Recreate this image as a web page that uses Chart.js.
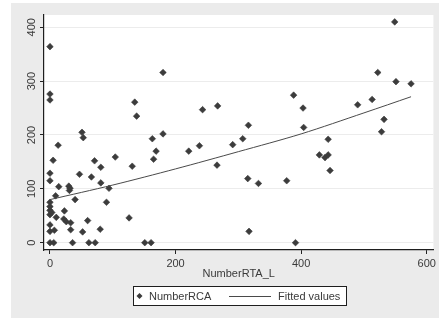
<!DOCTYPE html>
<html>
<head>
<meta charset="utf-8">
<script src="https://cdn.jsdelivr.net/npm/chart.js@4/dist/chart.umd.min.js"></script>
<style>
  html, body { margin: 0; padding: 0; background: #ffffff; }
  #wrap { width: 439px; height: 322px; }
</style>
</head>
<body>
<div id="wrap"><canvas id="c" width="439" height="322"></canvas></div>
<script>
// NumberRCA against NumberRTA_L, one entry per observation
const rcaX = [0, 0, 0, 0, 0, 0, 0, 0, 0, 0, 0, 0,
  3, 5, 7, 6, 10, 9, 13, 14,
  22, 23, 26, 30, 32, 31, 33, 33, 36, 40, 47, 51, 53, 52, 60, 62, 66, 71, 72, 80, 81, 81, 90, 94,
  104, 126, 131, 135, 138, 151, 161, 163, 165, 169, 180, 180,
  221, 238, 243, 267, 266, 291, 307, 315, 316, 317, 332, 377, 388, 391,
  403, 404, 429, 438, 443, 443, 446, 490, 513, 522, 528, 532, 549, 551, 575];
const rcaY = [364, 276, 265, 129, 115, 75, 67, 60, 52, 33, 21, 0,
  56, 153, 23, 0, 47, 87, 181, 104,
  44, 59, 39, 105, 101, 97, 37, 24, 0, 80, 127, 205, 195, 20, 41, 0, 122, 152, 0, 25, 140, 111, 75, 101,
  159, 46, 142, 261, 235, 0, 0, 193, 155, 170, 202, 316,
  170, 180, 247, 254, 144, 182, 193, 119, 218, 21, 110, 115, 274, 0,
  250, 214, 163, 158, 163, 192, 134, 256, 266, 316, 206, 229, 410, 299, 295];

// Fitted values curve
const fitX = [0, 100, 200, 300, 400, 500, 575];
const fitY = [80, 107, 137, 169, 202, 241, 271];

const xTicks = [0, 200, 400, 600];
const yTicks = [0, 100, 200, 300, 400];

const seriesNames = ['NumberRCA', 'Fitted values'];
const xTitle = 'NumberRTA_L';

const INK = '#3a3a3a';
const FONT = { family: '"Liberation Sans", Arial, sans-serif', size: 11 };

const backdrop = {
  id: 'backdrop',
  beforeDraw(chart) {
    const { ctx, chartArea: a } = chart;
    ctx.save();
    ctx.fillStyle = '#ffffff';
    ctx.fillRect(0, 0, chart.width, chart.height);
    ctx.fillStyle = '#ebebeb';
    ctx.fillRect(11, 3, chart.width - 11, 315);
    ctx.fillStyle = '#ffffff';
    ctx.fillRect(a.left, a.top, a.right - a.left, a.bottom - a.top);
    ctx.restore();
  }
};

// Boxed legend under the axis title
const boxLegend = {
  id: 'boxLegend',
  afterDraw(chart) {
    const { ctx } = chart;
    const ds = chart.data.datasets;
    const top = 286, h = 20, cy = top + h / 2;
    const left = 133, right = 347;
    ctx.save();
    ctx.fillStyle = '#ffffff';
    ctx.fillRect(left, top, right - left, h);
    ctx.strokeStyle = '#1e1e1e';
    ctx.lineWidth = 1;
    ctx.strokeRect(left + 0.5, top + 0.5, right - left - 1, h - 1);

    // marker key
    const mx = 139.5, r = 3;
    ctx.fillStyle = ds[0].backgroundColor;
    ctx.beginPath();
    ctx.moveTo(mx - r, cy); ctx.lineTo(mx, cy - r); ctx.lineTo(mx + r, cy); ctx.lineTo(mx, cy + r);
    ctx.closePath();
    ctx.fill();

    ctx.font = FONT.size + 'px ' + FONT.family;
    ctx.fillStyle = INK;
    ctx.textBaseline = 'middle';
    ctx.textAlign = 'left';
    ctx.fillText(ds[0].label, 149, cy + 0.5);

    // line key
    ctx.strokeStyle = ds[1].borderColor;
    ctx.beginPath();
    ctx.moveTo(229, cy + 0.5); ctx.lineTo(271, cy + 0.5);
    ctx.stroke();
    ctx.fillText(ds[1].label, 278, cy + 0.5);
    ctx.restore();
  }
};

new Chart(document.getElementById('c'), {
  type: 'scatter',
  data: {
    datasets: [
      {
        label: seriesNames[0],
        data: rcaX.map((x, i) => ({ x, y: rcaY[i] })),
        pointStyle: 'rectRot',
        pointRadius: 3.3,
        pointBorderWidth: 0.6,
        backgroundColor: '#3c3c3c',
        borderColor: '#3c3c3c',
        order: 2
      },
      {
        label: seriesNames[1],
        type: 'line',
        data: fitX.map((x, i) => ({ x, y: fitY[i] })),
        showLine: true,
        pointRadius: 0,
        borderWidth: 1,
        borderColor: '#4a4a4a',
        backgroundColor: '#4a4a4a',
        fill: false,
        tension: 0.3,
        order: 1
      }
    ]
  },
  options: {
    responsive: false,
    animation: false,
    events: [],
    layout: { padding: { top: 15, right: 3, bottom: 37, left: 0 } },
    plugins: {
      legend: { display: false },
      tooltip: { enabled: false }
    },
    scales: {
      x: {
        type: 'linear',
        min: -9.5,
        max: 610.6,
        afterFit(s) { s.height = 35; },
        afterBuildTicks(s) { s.ticks = xTicks.map(v => ({ value: v })); },
        grid: { drawOnChartArea: false, tickLength: 4, tickColor: '#222222', tickWidth: 1 },
        border: { color: '#1e1e1e', width: 1.2 },
        ticks: { color: INK, font: FONT, padding: 3, maxRotation: 0, autoSkip: false },
        title: { display: true, text: xTitle, color: INK, font: FONT, padding: { top: 0, bottom: 4 } }
      },
      y: {
        type: 'linear',
        min: -13.6,
        max: 422.8,
        afterFit(s) { s.width = 44; },
        afterBuildTicks(s) { s.ticks = yTicks.map(v => ({ value: v })); },
        grid: { color: '#ececec', lineWidth: 1, tickLength: 4, tickColor: '#222222', tickWidth: 1 },
        border: { color: '#1e1e1e', width: 1.2 },
        ticks: { color: INK, font: FONT, padding: -1, minRotation: 90, maxRotation: 90, crossAlign: 'center', autoSkip: false }
      }
    }
  },
  plugins: [backdrop, boxLegend]
});
</script>
</body>
</html>
